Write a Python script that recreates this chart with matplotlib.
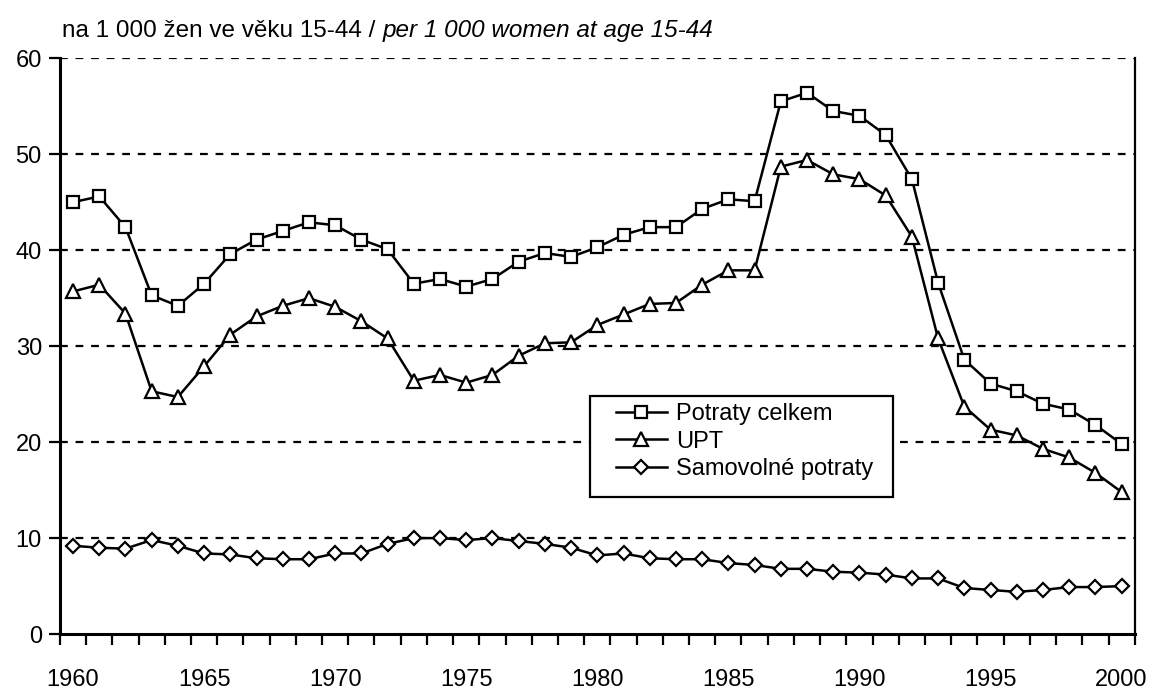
import matplotlib

matplotlib.use("Agg")
import matplotlib.pyplot as plt
from matplotlib.patches import Rectangle
from matplotlib.ticker import FixedLocator, NullFormatter

plt.rcParams["font.family"] = ["Liberation Sans", "DejaVu Sans"]

years = list(range(1960, 2001))

# per 1 000 women aged 15-44
potraty_celkem = [45.0, 45.6, 42.4, 35.3, 34.2, 36.5, 39.6, 41.1, 42.0, 42.9,
                  42.6, 41.1, 40.1, 36.5, 37.0, 36.2, 37.0, 38.8, 39.7, 39.3,
                  40.3, 41.6, 42.4, 42.4, 44.3, 45.3, 45.1, 55.5, 56.4, 54.5,
                  54.0, 52.0, 47.4, 36.6, 28.6, 26.1, 25.3, 24.0, 23.4, 21.8, 19.8]
upt = [35.7, 36.4, 33.4, 25.3, 24.7, 27.9, 31.2, 33.1, 34.2, 35.0,
       34.1, 32.6, 30.8, 26.4, 27.0, 26.2, 27.0, 29.0, 30.3, 30.4,
       32.2, 33.3, 34.4, 34.5, 36.4, 37.9, 37.9, 48.7, 49.4, 47.9,
       47.4, 45.7, 41.4, 30.8, 23.7, 21.3, 20.7, 19.3, 18.4, 16.8, 14.8]
samovolne = [9.2, 9.0, 8.9, 9.8, 9.2, 8.4, 8.3, 7.9, 7.8, 7.8,
             8.4, 8.4, 9.4, 10.0, 10.0, 9.8, 10.0, 9.7, 9.4, 9.0,
             8.2, 8.4, 7.9, 7.8, 7.8, 7.4, 7.2, 6.8, 6.8, 6.5,
             6.4, 6.2, 5.8, 5.8, 4.8, 4.6, 4.4, 4.6, 4.9, 4.9, 5.0]

labels = ["Potraty celkem", "UPT", "Samovolné potraty"]
markers = ["s", "^", "D"]
msizes = [9, 9.5, 7.5]

W, H = 1152, 693
fig = plt.figure(figsize=(W / 100, H / 100), dpi=100)
ax = fig.add_axes([0.052, 0.085, 0.933, 0.831])

x = list(range(len(years)))
for series, lab, mk, ms in zip([potraty_celkem, upt, samovolne], labels, markers, msizes):
    ax.plot(x, series, color="black", lw=1.8, marker=mk, ms=ms,
            mfc="white", mec="black", mew=1.6, label=lab, zorder=3)

ax.set_xlim(-0.5, len(years) - 0.5)
ax.set_ylim(0, 60)

# category axis: ticks between years, labels every 5 years at centres
ax.xaxis.set_major_locator(FixedLocator([i for i, y in enumerate(years) if y % 5 == 0]))
ax.set_xticklabels([str(y) for y in years if y % 5 == 0])
ax.xaxis.set_minor_locator(FixedLocator([i - 0.5 for i in range(len(years) + 1)]))
ax.xaxis.set_minor_formatter(NullFormatter())
ax.tick_params(axis="x", which="major", length=0, pad=25, labelsize=17)
ax.tick_params(axis="x", which="minor", length=8, width=1.6, direction="out")

ax.set_yticks(range(0, 61, 10))
ax.tick_params(axis="y", length=8, width=1.6, direction="out", labelsize=17, pad=5)

for v in range(10, 61, 10):
    ax.axhline(v, color="black", lw=1.6, ls=(0, (3.5, 3.5)), zorder=1)

ax.spines["top"].set_visible(False)
ax.spines["left"].set_linewidth(2.2)
ax.spines["bottom"].set_linewidth(2.2)
ax.spines["right"].set_linewidth(1.6)

# legend: no own frame, box drawn separately so the padding matches
ax.add_patch(Rectangle((590 / W, 1 - 497 / H), 303 / W, 101 / H,
                       transform=fig.transFigure, fill=True, fc="white",
                       ec="black", lw=1.6, zorder=4, clip_on=False))
leg = ax.legend(loc="upper left", bbox_to_anchor=(616 / W, 1 - 403 / H),
                bbox_transform=fig.transFigure, borderaxespad=0, borderpad=0,
                fontsize=17, frameon=False, numpoints=1,
                handlelength=2.15, handletextpad=0.38, labelspacing=0.24)
leg.set_zorder(5)

# subtitle, second half in italics
t1 = fig.text(62 / W, 1 - 31 / H, "na 1 000 žen ve věku 15-44 / ",
              fontsize=17.5, va="center", ha="left")
fig.canvas.draw()
bb = t1.get_window_extent()
fig.text(bb.x1 / fig.bbox.width, 1 - 31 / H, "per 1 000 women at age 15-44",
         fontsize=17.5, style="italic", va="center", ha="left")

fig.savefig("out.png", dpi=100)
